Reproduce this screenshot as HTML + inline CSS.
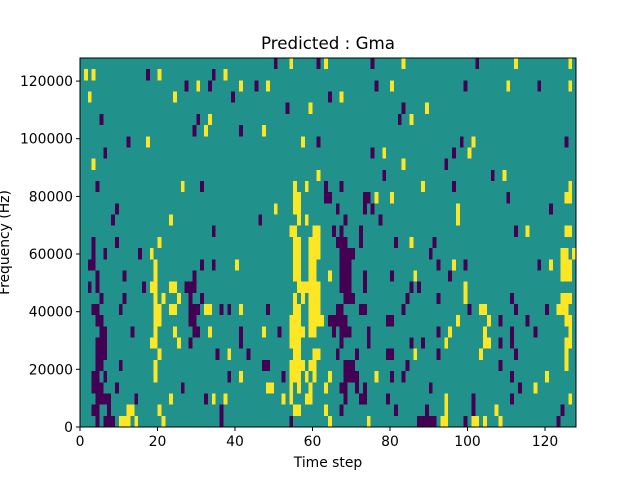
<!DOCTYPE html>
<html><head><meta charset="utf-8"><style>
body{margin:0;background:#fff;width:640px;height:480px;overflow:hidden}
text{font-family:"DejaVu Sans","Liberation Sans",sans-serif;fill:#000}
.p{fill:#440154}.y{fill:#fde725}
</style></head><body>
<svg width="640" height="480" xmlns="http://www.w3.org/2000/svg">
<rect width="640" height="480" fill="#fff"/>
<svg x="80" y="58" width="496" height="369" viewBox="0 0 128 33" preserveAspectRatio="none" shape-rendering="crispEdges">
<rect width="128" height="33" fill="#21918c"/>
<g class="p">
<rect x="50" y="0" width="1" height="1"/><rect x="61" y="0" width="1" height="1"/><rect x="75" y="0" width="1" height="1"/><rect x="102" y="0" width="1" height="1"/>
<rect x="17" y="1" width="1" height="1"/><rect x="34" y="1" width="1" height="1"/>
<rect x="27" y="2" width="1" height="1"/><rect x="33" y="2" width="1" height="1"/><rect x="45" y="2" width="1" height="1"/><rect x="76" y="2" width="1" height="1"/><rect x="99" y="2" width="1" height="1"/><rect x="118" y="2" width="1" height="1"/>
<rect x="39" y="3" width="1" height="1"/><rect x="64" y="3" width="1" height="1"/>
<rect x="53" y="4" width="1" height="1"/><rect x="83" y="4" width="1" height="1"/>
<rect x="5" y="5" width="1" height="1"/><rect x="30" y="5" width="1" height="1"/><rect x="82" y="5" width="1" height="1"/>
<rect x="29" y="6" width="1" height="1"/><rect x="41" y="6" width="1" height="1"/>
<rect x="12" y="7" width="1" height="1"/><rect x="61" y="7" width="1" height="1"/><rect x="98" y="7" width="1" height="1"/><rect x="125" y="7" width="1" height="1"/>
<rect x="6" y="8" width="1" height="1"/><rect x="75" y="8" width="1" height="1"/><rect x="96" y="8" width="1" height="1"/>
<rect x="94" y="9" width="1" height="1"/>
<rect x="78" y="10" width="1" height="1"/><rect x="106" y="10" width="1" height="1"/>
<rect x="4" y="11" width="1" height="1"/><rect x="31" y="11" width="1" height="1"/><rect x="63" y="11" width="1" height="1"/><rect x="67" y="11" width="1" height="1"/><rect x="96" y="11" width="1" height="1"/>
<rect x="63" y="12" width="2" height="1"/><rect x="73" y="12" width="2" height="1"/><rect x="110" y="12" width="1" height="1"/>
<rect x="9" y="13" width="1" height="1"/><rect x="66" y="13" width="1" height="1"/><rect x="73" y="13" width="1" height="1"/><rect x="75" y="13" width="1" height="1"/><rect x="121" y="13" width="1" height="1"/>
<rect x="8" y="14" width="1" height="1"/><rect x="46" y="14" width="1" height="1"/><rect x="68" y="14" width="1" height="1"/><rect x="77" y="14" width="1" height="1"/>
<rect x="34" y="15" width="1" height="1"/><rect x="65" y="15" width="1" height="1"/><rect x="67" y="15" width="1" height="1"/><rect x="72" y="15" width="1" height="1"/><rect x="112" y="15" width="1" height="1"/>
<rect x="3" y="16" width="1" height="1"/><rect x="9" y="16" width="1" height="1"/><rect x="66" y="16" width="3" height="1"/><rect x="72" y="16" width="1" height="1"/><rect x="81" y="16" width="1" height="1"/><rect x="91" y="16" width="1" height="1"/>
<rect x="3" y="17" width="1" height="1"/><rect x="6" y="17" width="1" height="1"/><rect x="15" y="17" width="1" height="1"/><rect x="67" y="17" width="4" height="1"/><rect x="90" y="17" width="1" height="1"/>
<rect x="2" y="18" width="2" height="1"/><rect x="31" y="18" width="1" height="1"/><rect x="34" y="18" width="1" height="1"/><rect x="67" y="18" width="3" height="1"/><rect x="92" y="18" width="1" height="1"/><rect x="99" y="18" width="1" height="1"/><rect x="118" y="18" width="1" height="1"/>
<rect x="4" y="19" width="1" height="1"/><rect x="11" y="19" width="1" height="1"/><rect x="29" y="19" width="1" height="1"/><rect x="67" y="19" width="3" height="1"/><rect x="73" y="19" width="1" height="1"/><rect x="80" y="19" width="1" height="1"/><rect x="95" y="19" width="1" height="1"/>
<rect x="2" y="20" width="1" height="1"/><rect x="4" y="20" width="1" height="1"/><rect x="16" y="20" width="1" height="1"/><rect x="27" y="20" width="3" height="1"/><rect x="67" y="20" width="3" height="1"/><rect x="73" y="20" width="1" height="1"/><rect x="85" y="20" width="1" height="1"/><rect x="87" y="20" width="1" height="1"/>
<rect x="5" y="21" width="1" height="1"/><rect x="11" y="21" width="1" height="1"/><rect x="28" y="21" width="1" height="1"/><rect x="31" y="21" width="1" height="1"/><rect x="68" y="21" width="3" height="1"/><rect x="84" y="21" width="1" height="1"/><rect x="92" y="21" width="1" height="1"/><rect x="111" y="21" width="1" height="1"/>
<rect x="3" y="22" width="2" height="1"/><rect x="10" y="22" width="1" height="1"/><rect x="28" y="22" width="3" height="1"/><rect x="36" y="22" width="1" height="1"/><rect x="38" y="22" width="1" height="1"/><rect x="48" y="22" width="1" height="1"/><rect x="66" y="22" width="2" height="1"/><rect x="72" y="22" width="2" height="1"/><rect x="83" y="22" width="1" height="1"/><rect x="100" y="22" width="1" height="1"/><rect x="112" y="22" width="1" height="1"/><rect x="120" y="22" width="1" height="1"/>
<rect x="4" y="23" width="2" height="1"/><rect x="28" y="23" width="2" height="1"/><rect x="64" y="23" width="5" height="1"/><rect x="79" y="23" width="2" height="1"/><rect x="108" y="23" width="1" height="1"/><rect x="115" y="23" width="1" height="1"/>
<rect x="5" y="24" width="2" height="1"/><rect x="13" y="24" width="1" height="1"/><rect x="29" y="24" width="2" height="1"/><rect x="41" y="24" width="1" height="1"/><rect x="51" y="24" width="1" height="1"/><rect x="65" y="24" width="1" height="1"/><rect x="67" y="24" width="3" height="1"/><rect x="74" y="24" width="1" height="1"/><rect x="92" y="24" width="1" height="1"/><rect x="111" y="24" width="1" height="1"/><rect x="117" y="24" width="1" height="1"/>
<rect x="4" y="25" width="3" height="1"/><rect x="28" y="25" width="1" height="1"/><rect x="41" y="25" width="1" height="1"/><rect x="67" y="25" width="1" height="1"/><rect x="74" y="25" width="1" height="1"/><rect x="85" y="25" width="1" height="1"/><rect x="88" y="25" width="1" height="1"/><rect x="108" y="25" width="1" height="1"/><rect x="111" y="25" width="1" height="1"/>
<rect x="4" y="26" width="3" height="1"/><rect x="35" y="26" width="1" height="1"/><rect x="43" y="26" width="1" height="1"/><rect x="66" y="26" width="1" height="1"/><rect x="71" y="26" width="1" height="1"/><rect x="79" y="26" width="2" height="1"/><rect x="92" y="26" width="1" height="1"/><rect x="112" y="26" width="1" height="1"/>
<rect x="4" y="27" width="2" height="1"/><rect x="10" y="27" width="1" height="1"/><rect x="47" y="27" width="2" height="1"/><rect x="68" y="27" width="3" height="1"/><rect x="84" y="27" width="1" height="1"/><rect x="108" y="27" width="1" height="1"/>
<rect x="3" y="28" width="2" height="1"/><rect x="6" y="28" width="1" height="1"/><rect x="38" y="28" width="1" height="1"/><rect x="52" y="28" width="1" height="1"/><rect x="68" y="28" width="4" height="1"/><rect x="80" y="28" width="1" height="1"/><rect x="83" y="28" width="1" height="1"/><rect x="111" y="28" width="1" height="1"/>
<rect x="3" y="29" width="3" height="1"/><rect x="9" y="29" width="1" height="1"/><rect x="26" y="29" width="1" height="1"/><rect x="67" y="29" width="2" height="1"/><rect x="71" y="29" width="1" height="1"/><rect x="73" y="29" width="1" height="1"/><rect x="90" y="29" width="1" height="1"/><rect x="113" y="29" width="1" height="1"/>
<rect x="4" y="30" width="4" height="1"/><rect x="14" y="30" width="1" height="1"/><rect x="32" y="30" width="1" height="1"/><rect x="68" y="30" width="1" height="1"/><rect x="72" y="30" width="2" height="1"/><rect x="79" y="30" width="1" height="1"/><rect x="101" y="30" width="1" height="1"/><rect x="111" y="30" width="1" height="1"/>
<rect x="3" y="31" width="2" height="1"/><rect x="7" y="31" width="1" height="1"/><rect x="36" y="31" width="1" height="1"/><rect x="67" y="31" width="1" height="1"/><rect x="81" y="31" width="1" height="1"/><rect x="89" y="31" width="1" height="1"/><rect x="101" y="31" width="1" height="1"/><rect x="124" y="31" width="1" height="1"/>
<rect x="4" y="32" width="1" height="1"/><rect x="6" y="32" width="3" height="1"/><rect x="36" y="32" width="1" height="1"/><rect x="54" y="32" width="1" height="1"/><rect x="87" y="32" width="5" height="1"/><rect x="99" y="32" width="1" height="1"/><rect x="123" y="32" width="1" height="1"/>
</g>
<g class="y">
<rect x="54" y="0" width="1" height="1"/><rect x="63" y="0" width="1" height="1"/><rect x="83" y="0" width="1" height="1"/><rect x="112" y="0" width="1" height="1"/><rect x="126" y="0" width="1" height="1"/>
<rect x="1" y="1" width="1" height="1"/><rect x="3" y="1" width="1" height="1"/><rect x="20" y="1" width="1" height="1"/><rect x="37" y="1" width="1" height="1"/>
<rect x="30" y="2" width="1" height="1"/><rect x="41" y="2" width="1" height="1"/><rect x="48" y="2" width="1" height="1"/><rect x="80" y="2" width="1" height="1"/><rect x="110" y="2" width="1" height="1"/><rect x="126" y="2" width="1" height="1"/>
<rect x="2" y="3" width="1" height="1"/><rect x="24" y="3" width="1" height="1"/><rect x="67" y="3" width="1" height="1"/>
<rect x="59" y="4" width="1" height="1"/><rect x="89" y="4" width="1" height="1"/>
<rect x="33" y="5" width="1" height="1"/><rect x="85" y="5" width="1" height="1"/>
<rect x="32" y="6" width="1" height="1"/><rect x="47" y="6" width="1" height="1"/>
<rect x="17" y="7" width="1" height="1"/><rect x="57" y="7" width="1" height="1"/><rect x="101" y="7" width="1" height="1"/>
<rect x="78" y="8" width="1" height="1"/><rect x="100" y="8" width="1" height="1"/>
<rect x="3" y="9" width="1" height="1"/><rect x="83" y="9" width="1" height="1"/>
<rect x="61" y="10" width="1" height="1"/><rect x="109" y="10" width="1" height="1"/>
<rect x="26" y="11" width="1" height="1"/><rect x="55" y="11" width="1" height="1"/><rect x="58" y="11" width="1" height="1"/><rect x="88" y="11" width="1" height="1"/><rect x="126" y="11" width="1" height="1"/>
<rect x="55" y="12" width="2" height="1"/><rect x="76" y="12" width="1" height="1"/><rect x="80" y="12" width="1" height="1"/><rect x="125" y="12" width="2" height="1"/>
<rect x="50" y="13" width="1" height="1"/><rect x="55" y="13" width="2" height="1"/><rect x="97" y="13" width="1" height="1"/>
<rect x="23" y="14" width="1" height="1"/><rect x="56" y="14" width="1" height="1"/><rect x="58" y="14" width="1" height="1"/><rect x="97" y="14" width="1" height="1"/>
<rect x="54" y="15" width="2" height="1"/><rect x="60" y="15" width="2" height="1"/><rect x="115" y="15" width="1" height="1"/><rect x="125" y="15" width="2" height="1"/>
<rect x="20" y="16" width="1" height="1"/><rect x="55" y="16" width="2" height="1"/><rect x="59" y="16" width="3" height="1"/><rect x="85" y="16" width="1" height="1"/>
<rect x="18" y="17" width="1" height="1"/><rect x="55" y="17" width="2" height="1"/><rect x="59" y="17" width="3" height="1"/><rect x="124" y="17" width="2" height="1"/><rect x="127" y="17" width="1" height="1"/>
<rect x="19" y="18" width="1" height="1"/><rect x="40" y="18" width="1" height="1"/><rect x="55" y="18" width="2" height="1"/><rect x="59" y="18" width="2" height="1"/><rect x="96" y="18" width="1" height="1"/><rect x="121" y="18" width="1" height="1"/><rect x="124" y="18" width="3" height="1"/>
<rect x="19" y="19" width="1" height="1"/><rect x="55" y="19" width="2" height="1"/><rect x="59" y="19" width="2" height="1"/><rect x="64" y="19" width="1" height="1"/><rect x="86" y="19" width="1" height="1"/><rect x="124" y="19" width="3" height="1"/>
<rect x="18" y="20" width="2" height="1"/><rect x="23" y="20" width="2" height="1"/><rect x="56" y="20" width="6" height="1"/><rect x="99" y="20" width="1" height="1"/>
<rect x="19" y="21" width="1" height="1"/><rect x="21" y="21" width="1" height="1"/><rect x="25" y="21" width="1" height="1"/><rect x="55" y="21" width="1" height="1"/><rect x="57" y="21" width="1" height="1"/><rect x="59" y="21" width="3" height="1"/><rect x="99" y="21" width="1" height="1"/><rect x="124" y="21" width="3" height="1"/>
<rect x="19" y="22" width="2" height="1"/><rect x="23" y="22" width="2" height="1"/><rect x="32" y="22" width="2" height="1"/><rect x="41" y="22" width="1" height="1"/><rect x="55" y="22" width="2" height="1"/><rect x="59" y="22" width="3" height="1"/><rect x="103" y="22" width="2" height="1"/><rect x="123" y="22" width="3" height="1"/>
<rect x="19" y="23" width="2" height="1"/><rect x="54" y="23" width="3" height="1"/><rect x="59" y="23" width="4" height="1"/><rect x="97" y="23" width="1" height="1"/><rect x="105" y="23" width="1" height="1"/><rect x="125" y="23" width="2" height="1"/>
<rect x="19" y="24" width="1" height="1"/><rect x="24" y="24" width="1" height="1"/><rect x="33" y="24" width="1" height="1"/><rect x="47" y="24" width="1" height="1"/><rect x="54" y="24" width="4" height="1"/><rect x="59" y="24" width="2" height="1"/><rect x="95" y="24" width="1" height="1"/><rect x="104" y="24" width="1" height="1"/><rect x="126" y="24" width="1" height="1"/>
<rect x="18" y="25" width="2" height="1"/><rect x="25" y="25" width="1" height="1"/><rect x="54" y="25" width="3" height="1"/><rect x="94" y="25" width="1" height="1"/><rect x="104" y="25" width="2" height="1"/><rect x="125" y="25" width="2" height="1"/>
<rect x="20" y="26" width="1" height="1"/><rect x="38" y="26" width="1" height="1"/><rect x="55" y="26" width="2" height="1"/><rect x="60" y="26" width="2" height="1"/><rect x="86" y="26" width="1" height="1"/><rect x="103" y="26" width="1" height="1"/><rect x="125" y="26" width="1" height="1"/>
<rect x="19" y="27" width="1" height="1"/><rect x="54" y="27" width="4" height="1"/><rect x="59" y="27" width="2" height="1"/><rect x="125" y="27" width="1" height="1"/>
<rect x="19" y="28" width="1" height="1"/><rect x="41" y="28" width="1" height="1"/><rect x="54" y="28" width="3" height="1"/><rect x="58" y="28" width="1" height="1"/><rect x="60" y="28" width="1" height="1"/><rect x="64" y="28" width="1" height="1"/><rect x="76" y="28" width="1" height="1"/><rect x="120" y="28" width="1" height="1"/>
<rect x="48" y="29" width="2" height="1"/><rect x="54" y="29" width="1" height="1"/><rect x="56" y="29" width="1" height="1"/><rect x="59" y="29" width="1" height="1"/><rect x="63" y="29" width="1" height="1"/><rect x="117" y="29" width="1" height="1"/>
<rect x="23" y="30" width="1" height="1"/><rect x="34" y="30" width="1" height="1"/><rect x="37" y="30" width="1" height="1"/><rect x="52" y="30" width="1" height="1"/><rect x="54" y="30" width="1" height="1"/><rect x="58" y="30" width="2" height="1"/><rect x="94" y="30" width="1" height="1"/><rect x="126" y="30" width="1" height="1"/>
<rect x="12" y="31" width="2" height="1"/><rect x="20" y="31" width="1" height="1"/><rect x="55" y="31" width="2" height="1"/><rect x="63" y="31" width="1" height="1"/><rect x="94" y="31" width="1" height="1"/><rect x="107" y="31" width="1" height="1"/>
<rect x="10" y="32" width="3" height="1"/><rect x="14" y="32" width="1" height="1"/><rect x="21" y="32" width="1" height="1"/><rect x="64" y="32" width="1" height="1"/><rect x="74" y="32" width="1" height="1"/><rect x="93" y="32" width="2" height="1"/><rect x="101" y="32" width="2" height="1"/><rect x="104" y="32" width="1" height="1"/><rect x="108" y="32" width="1" height="1"/>
</g>
</svg>
<rect x="80" y="58" width="496" height="369" fill="none" stroke="#000" stroke-width="1"/>
<g stroke="#000" stroke-width="1">
<line x1="80" y1="427" x2="80" y2="431"/><line x1="157.5" y1="427" x2="157.5" y2="431"/><line x1="235" y1="427" x2="235" y2="431"/><line x1="312.5" y1="427" x2="312.5" y2="431"/><line x1="390" y1="427" x2="390" y2="431"/><line x1="467.5" y1="427" x2="467.5" y2="431"/><line x1="545" y1="427" x2="545" y2="431"/>
<line x1="76" y1="427" x2="80" y2="427"/><line x1="76" y1="369.3" x2="80" y2="369.3"/><line x1="76" y1="311.7" x2="80" y2="311.7"/><line x1="76" y1="254" x2="80" y2="254"/><line x1="76" y1="196.4" x2="80" y2="196.4"/><line x1="76" y1="138.7" x2="80" y2="138.7"/><line x1="76" y1="81.1" x2="80" y2="81.1"/>
</g>
<g font-size="13.9" text-anchor="middle">
<text x="80" y="446">0</text><text x="157.5" y="446">20</text><text x="235" y="446">40</text><text x="312.5" y="446">60</text><text x="390" y="446">80</text><text x="467.5" y="446">100</text><text x="545" y="446">120</text>
<text x="328" y="467">Time step</text>
</g>
<g font-size="13.9" text-anchor="end">
<text x="73" y="432">0</text><text x="73" y="374.3">20000</text><text x="73" y="316.7">40000</text><text x="73" y="259">60000</text><text x="73" y="201.4">80000</text><text x="73" y="143.7">100000</text><text x="73" y="86.1">120000</text>
</g>
<text x="9" y="242.5" font-size="13.9" text-anchor="middle" transform="rotate(-90 9 242.5)">Frequency (Hz)</text>
<text x="328" y="49" font-size="16.7" text-anchor="middle">Predicted : Gma</text>
</svg>
</body></html>
